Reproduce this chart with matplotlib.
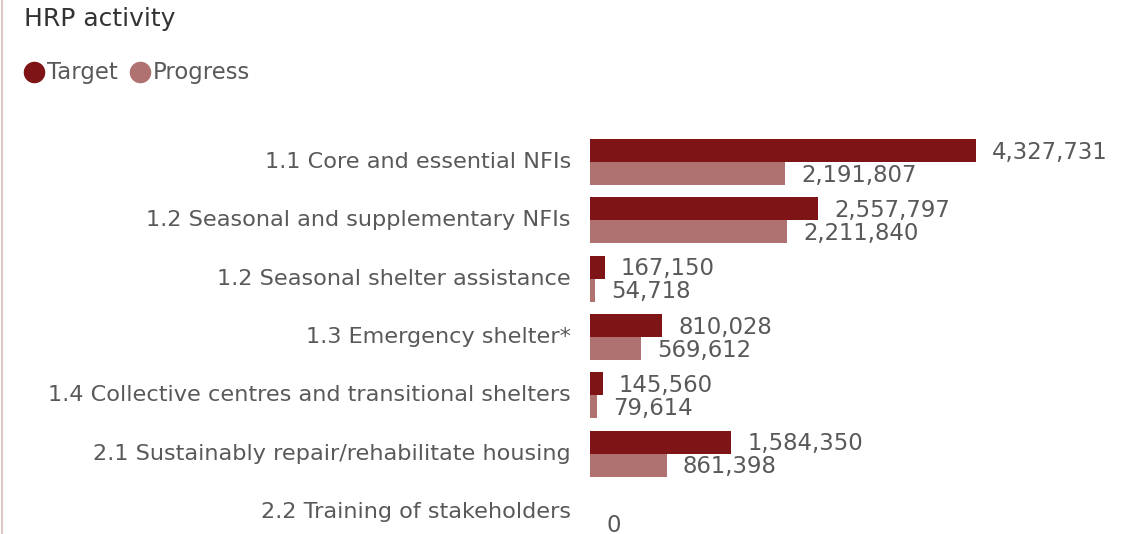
import matplotlib.pyplot as plt
from matplotlib.lines import Line2D
import numpy as np

# data
activities = ['1.1 Core and essential NFIs',
              '1.2 Seasonal and supplementary NFIs',
              '1.2 Seasonal shelter assistance',
              '1.3 Emergency shelter*',
              '1.4 Collective centres and transitional shelters',
              '2.1 Sustainably repair/rehabilitate housing',
              '2.2 Training of stakeholders']
target = [4327731, 2557797, 167150, 810028, 145560, 1584350, 0]
progress = [2191807, 2211840, 54718, 569612, 79614, 861398, 0]
series = ['Target', 'Progress']

c_target = '#7f1416'
c_progress = '#b07270'
c_text = '#595959'

W, H = 1127, 534
fig = plt.figure(figsize=(W / 100, H / 100), dpi=100)

# axes: zero line at x=590px, scale ~89.2 px per million
x0 = 590
ax = fig.add_axes([x0 / W, 0, (W - x0) / W, (H - 130) / H])
px_per_unit = 386 / 4327731
ax.set_xlim(0, (W - x0) / px_per_unit)
step = 58.33
ax.set_ylim((H - 162) / step, -(162 - 130) / step)

y = np.arange(len(activities))
bh = 23 / step
ax.barh(y - bh / 2, target, height=bh, color=c_target)
ax.barh(y + bh / 2, progress, height=bh, color=c_progress)

off = 16 / px_per_unit
for i in range(len(activities)):
    if target[i] > 0:
        ax.text(target[i] + off, y[i] - bh / 2 + 0.03, f'{target[i]:,}',
                va='center', ha='left', fontsize=16.4, color=c_text)
    ax.text(progress[i] + off, y[i] + bh / 2 + 0.03, f'{progress[i]:,}',
            va='center', ha='left', fontsize=16.4, color=c_text)
    ax.text(-19 / px_per_unit, y[i], activities[i], va='center', ha='right',
            fontsize=16.1, color=c_text, clip_on=False)

ax.axis('off')

fig.text(24 / W, 1 - 19 / H, 'HRP activity', fontsize=18, color='#333333',
         va='center', ha='left')

# legend drawn by hand: circle + label
lx = [34, 140]
for name, col, x in zip(series, [c_target, c_progress], lx):
    fig.add_artist(Line2D([x / W], [1 - 72 / H], ls='', marker='o', ms=14.5,
                          color=col))
    fig.text((x + 13) / W, 1 - 72 / H, name, fontsize=16.4, color=c_text,
             va='center', ha='left')

# thin left border
fig.add_artist(Line2D([1.5 / W, 1.5 / W], [0, 1], color='#dcc8c8', lw=1.5))

fig.savefig('out.png', dpi=100)
